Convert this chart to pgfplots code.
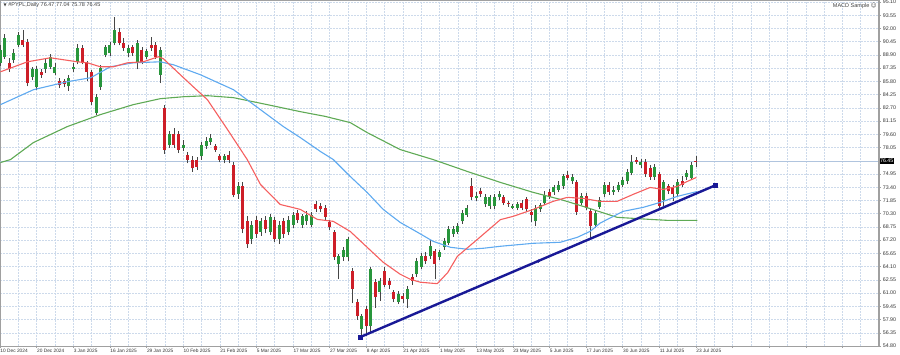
\documentclass[border=0pt]{standalone}
\usepackage{fontspec}
\setmainfont{Liberation Sans}
\newfontfamily\dejavu{DejaVu Sans}
\usepackage{pgfplots}
\usepackage{pgfplotstable}
\pgfplotsset{compat=1.18}

\definecolor{gridc}{RGB}{205,218,235}
\definecolor{upc}{RGB}{40,150,60}
\definecolor{dnc}{RGB}{205,30,40}
\definecolor{wickc}{RGB}{70,70,70}
\definecolor{maR}{RGB}{245,95,95}
\definecolor{maB}{RGB}{95,170,240}
\definecolor{maG}{RGB}{95,170,85}
\definecolor{tline}{RGB}{25,25,150}
\definecolor{bidc}{RGB}{176,196,222}
\definecolor{framec}{RGB}{160,160,160}

\pgfplotstableread{
i o h l c
0 88.0 90.0 87.6 89.5
1 88.7 91.3 88.4 90.9
2 88.0 88.5 86.9 87.2
3 88.3 89.6 88.0 89.1
4 90.1 91.6 89.8 91.2
5 90.7 91.8 89.8 90.1
6 90.4 90.8 85.2 85.6
7 86.3 87.5 85.9 87.2
8 85.1 87.6 84.8 87.2
9 86.9 87.3 86.2 86.6
10 87.2 88.5 86.8 88.0
11 87.5 89.0 87.2 88.6
12 86.8 87.9 86.5 87.5
13 85.8 86.2 85.0 85.4
14 85.8 86.1 85.1 85.5
15 85.2 86.5 84.7 86.2
16 87.2 87.9 86.9 87.5
17 88.1 90.2 87.8 89.7
18 89.7 90.0 87.8 88.0
19 88.0 88.2 85.8 86.9
20 86.9 87.1 83.0 83.4
21 82.1 84.3 81.8 84.0
22 85.1 87.7 84.8 87.4
23 88.9 90.1 88.6 89.8
24 89.1 90.4 88.8 90.1
25 90.3 93.3 90.0 91.8
26 91.6 92.0 90.0 90.3
27 90.3 90.9 89.4 89.7
28 89.1 90.0 88.7 89.7
29 89.8 90.1 88.8 89.1
30 88.0 90.6 87.2 90.3
31 89.5 89.8 87.8 88.1
32 88.7 89.6 88.4 89.3
33 90.1 91.0 89.4 89.7
34 90.1 90.4 88.4 88.7
35 86.6 89.8 85.6 89.5
36 82.7 83.0 77.3 77.8
37 78.4 80.0 78.0 79.6
38 79.6 80.3 78.0 78.4
39 79.6 80.0 77.4 77.8
40 78.0 78.9 77.6 78.4
41 77.2 77.5 76.2 76.6
42 76.6 77.0 75.2 75.6
43 76.6 76.9 75.4 75.8
44 77.0 78.7 76.6 78.4
45 78.2 79.3 77.9 78.8
46 78.7 79.6 78.4 79.2
47 78.2 78.5 77.5 77.8
48 77.0 77.3 76.3 76.6
49 76.6 77.3 76.2 77.0
50 77.2 77.6 76.2 76.6
51 76.0 76.3 72.2 72.5
52 72.6 74.0 72.0 73.6
53 73.6 74.0 68.0 68.5
54 69.5 70.0 66.3 66.7
55 67.3 69.5 66.8 69.0
56 69.6 70.0 67.5 67.9
57 68.2 69.8 67.7 69.4
58 69.6 70.0 68.0 68.5
59 68.2 70.3 67.8 69.9
60 69.6 69.9 67.0 67.3
61 67.3 69.4 66.8 69.0
62 69.4 69.8 67.5 67.9
63 68.1 70.0 67.8 69.6
64 69.0 70.5 68.6 70.2
65 70.4 70.7 69.2 69.6
66 69.0 70.3 68.6 70.0
67 69.4 70.6 69.0 70.2
68 69.0 70.5 68.7 70.2
69 71.4 71.8 70.5 70.8
70 71.2 71.6 70.5 70.8
71 71.0 71.3 69.6 69.9
72 69.3 69.6 68.4 68.7
73 68.1 68.4 64.9 65.2
74 64.4 65.6 62.6 65.3
75 65.2 66.4 64.8 66.1
76 65.2 67.6 64.8 67.3
77 63.6 63.9 59.8 61.5
78 59.9 60.3 57.9 58.3
79 56.8 58.6 55.85 58.3
80 59.1 59.5 56.0 57.1
81 57.1 64.1 56.4 63.8
82 62.3 62.6 59.3 60.5
83 61.1 62.8 60.1 62.4
84 63.6 64.0 61.7 62.0
85 62.4 62.8 61.5 62.0
86 61.1 61.4 59.9 60.3
87 60.0 61.2 59.7 60.9
88 60.7 61.0 59.8 60.3
89 60.3 61.8 59.3 61.5
90 62.9 63.2 62.0 62.4
91 63.2 65.1 62.9 64.8
92 64.1 65.7 63.8 65.4
93 65.4 65.8 64.4 64.7
94 65.3 67.2 65.0 66.5
95 65.9 66.2 62.6 64.4
96 65.2 66.1 64.9 65.8
97 66.4 67.4 66.1 67.1
98 66.9 68.8 66.6 68.5
99 67.9 68.8 67.6 68.5
100 68.2 69.2 67.9 68.8
101 69.4 70.7 69.1 70.4
102 70.2 71.3 69.9 71.0
103 73.5 74.5 71.9 72.2
104 72.1 72.8 71.8 72.4
105 72.9 73.3 72.2 72.6
106 71.4 72.6 71.1 72.3
107 71.2 72.5 70.9 72.2
108 71.2 72.6 70.9 72.2
109 72.2 73.0 71.9 72.6
110 72.2 72.5 71.3 71.6
111 71.6 71.8 71.1 71.4
112 71.0 71.4 70.8 71.2
113 71.0 71.7 70.7 71.4
114 71.6 71.9 70.7 71.0
115 72.0 72.3 70.5 70.8
116 70.5 70.8 69.3 70.2
117 69.4 71.3 68.9 71.0
118 70.8 71.6 70.5 71.3
119 71.6 72.9 71.3 72.5
120 72.8 73.2 72.0 72.3
121 72.8 73.7 72.5 73.4
122 73.1 74.1 72.8 73.7
123 73.5 75.0 73.2 74.7
124 74.8 75.3 74.2 74.5
125 74.1 75.0 73.8 74.6
126 74.0 74.3 70.2 70.5
127 71.6 72.7 71.3 72.4
128 72.4 72.7 70.7 71.0
129 70.6 70.9 67.5 68.8
130 69.0 70.7 68.6 70.4
131 71.1 72.2 70.8 71.9
132 72.6 74.0 72.3 73.7
133 73.7 74.0 72.5 72.8
134 72.8 73.5 72.5 73.1
135 73.1 74.0 72.8 73.7
136 73.7 74.6 73.4 74.3
137 74.1 75.5 73.8 75.2
138 75.1 77.2 74.8 76.4
139 76.6 76.9 76.1 76.4
140 76.0 76.7 75.7 76.3
141 76.4 76.7 74.6 74.9
142 75.7 76.0 74.3 74.6
143 74.6 76.1 74.3 75.8
144 74.9 75.2 70.8 71.2
145 71.9 74.3 71.2 74.0
146 73.5 73.8 72.6 72.9
147 73.4 73.7 71.8 72.6
148 72.6 74.4 72.3 74.0
149 74.1 74.7 73.4 73.7
150 74.6 75.4 74.3 75.1
151 74.5 76.4 74.3 76.0
152 76.47 77.04 75.78 76.45
}\candles

\pgfplotstableread{
i v
0.1 86.92
6.0 88.09
11.0 88.56
16.9 88.09
19.1 87.97
21.9 87.51
24.8 87.51
27.8 87.97
31.3 88.09
34.6 88.68
35.7 88.44
39.4 86.57
42.2 85.17
45.3 83.65
49.7 80.15
54.0 76.64
56.9 73.72
61.2 71.38
65.6 70.80
69.3 69.63
72.8 69.40
76.5 68.22
80.2 66.36
83.7 64.61
87.4 63.21
89.6 62.62
91.8 62.27
95.5 62.10
97.8 63.40
99.9 65.30
104.3 67.30
109.3 69.60
112.1 69.99
116.5 70.80
120.8 71.74
123.9 72.21
127.4 72.09
131.1 71.74
134.8 71.74
138.3 72.56
142.0 73.37
144.9 73.14
147.9 73.49
150.1 74.07
152.1 74.54
}\maRed

\pgfplotstableread{
i v
0.1 83.07
7.3 84.82
14.7 85.76
19.8 86.22
24.1 87.51
29.1 87.97
35.0 88.09
37.9 87.74
43.8 86.57
51.0 84.82
56.9 82.48
61.9 80.50
65.6 79.21
70.0 77.58
72.8 76.64
76.5 74.66
80.2 72.79
83.7 70.80
87.4 69.28
91.2 68.12
94.6 67.06
98.4 66.36
102.1 66.13
105.6 66.25
109.3 66.48
116.5 66.83
122.4 66.95
126.1 67.53
128.9 68.23
131.1 69.20
136.1 70.57
140.5 71.04
144.2 71.62
147.9 72.32
152.3 72.90
}\maBlue

\pgfplotstableread{
i v
0.1 76.29
2.3 76.64
7.3 78.63
14.7 80.50
21.9 81.90
29.1 83.07
35.0 83.77
40.1 84.00
45.3 84.12
51.0 83.89
58.4 83.07
65.6 82.25
71.0 81.70
76.5 80.97
80.2 79.80
87.4 77.81
94.6 76.64
102.1 75.24
109.3 73.96
116.5 72.79
122.4 71.97
127.4 71.15
134.8 69.87
142.0 69.63
145.7 69.52
152.3 69.52
}\maGreen

\begin{document}
\begin{tikzpicture}[x=1pt,y=1pt]
\useasboundingbox (0,-9) rectangle (900,346);
\begin{axis}[
  at={(0,0)}, anchor=south west,
  scale only axis, width=879pt, height=346pt,
  xmin=0, xmax=192, ymin=54.80, ymax=95.33,
  clip mode=individual,
  axis line style={draw=framec, line width=0.6pt},
  xtick={0,8,...,184},
  xticklabels={10 Dec 2024,20 Dec 2024,3 Jan 2025,16 Jan 2025,29 Jan 2025,10 Feb 2025,21 Feb 2025,5 Mar 2025,17 Mar 2025,27 Mar 2025,8 Apr 2025,21 Apr 2025,1 May 2025,13 May 2025,23 May 2025,5 Jun 2025,17 Jun 2025,30 Jun 2025,11 Jul 2025,23 Jul 2025,,,,},
  minor xtick={4,12,...,188},
  ytick={54.80,56.35,57.90,59.45,61.00,62.55,64.10,65.65,67.20,68.75,70.30,71.85,73.40,74.95,78.05,79.60,81.15,82.70,84.25,85.80,87.35,88.90,90.45,92.00,93.55,95.10},
  yticklabel={\pgfmathprintnumber[fixed,fixed zerofill,precision=2,assume math mode=true]{\tick}},
  xtick pos=lower, ytick pos=right, yticklabel pos=right,
  major tick length=2pt, minor tick length=0pt,
  tick style={framec, line width=0.5pt},
  tick align=outside,
  grid=both,
  major grid style={gridc, dash pattern=on 1.5pt off 1.5pt, line width=0.5pt},
  minor grid style={gridc, dash pattern=on 1.5pt off 1.5pt, line width=0.5pt},
  xticklabel style={anchor=north west, inner sep=0.6pt, xshift=-0.3pt, font=\fontsize{4.8}{5}\selectfont, text=black!80},
  yticklabel style={anchor=west, inner sep=0.6pt, xshift=1pt, font=\fontsize{5.3}{6}\selectfont, text=black!80},
]
% bid line
\addplot[bidc, line width=0.8pt, forget plot] coordinates {(0,76.45) (192,76.45)};
% wicks
\addplot[draw=none, mark=none, forget plot,
  error bars/.cd, y dir=plus, y explicit, error mark=none,
  error bar style={draw=wickc, line width=0.7pt}]
  table[x=i, y=l, y error expr=\thisrow{h}-\thisrow{l}] {\candles};
% bullish bodies
\addplot[draw=none, mark=none, forget plot,
  restrict expr to domain={\thisrow{c}-\thisrow{o}}{0:100},
  error bars/.cd, y dir=plus, y explicit, error mark=none,
  error bar style={draw=upc, line width=3pt}]
  table[x=i, y=o, y error expr=\thisrow{c}-\thisrow{o}] {\candles};
% bearish bodies
\addplot[draw=none, mark=none, forget plot,
  restrict expr to domain={\thisrow{o}-\thisrow{c}}{0.0001:100},
  error bars/.cd, y dir=plus, y explicit, error mark=none,
  error bar style={draw=dnc, line width=3pt}]
  table[x=i, y=c, y error expr=\thisrow{o}-\thisrow{c}] {\candles};
% moving averages
\addplot[maG, line width=1.1pt, mark=none] table[x=i, y=v] {\maGreen};
\addplot[maB, line width=1.1pt, mark=none] table[x=i, y=v] {\maBlue};
\addplot[maR, line width=1.1pt, mark=none] table[x=i, y=v] {\maRed};
% trend line
\addplot[tline, line width=2.4pt, mark=none] coordinates {(78.7,55.85) (156.2,73.61)};
\addplot[tline, only marks, mark=square*, mark size=2.2pt] coordinates {(78.7,55.85) (156.2,73.61)};
\addplot[tline, only marks, mark=*, mark size=1.4pt] coordinates {(117.6,64.74)};
% labels
\node[anchor=north west, inner sep=0pt, font=\fontsize{5.5}{6}\selectfont, text=black!75] at (rel axis cs:0.004,0.992) {{\dejavu\fontsize{4}{5}\selectfont▼}\ \#PYPL,Daily 76.47 77.04 75.78 76.45};
\node[anchor=north east, inner sep=0pt, font=\fontsize{5.5}{6}\selectfont, text=black!75] at (rel axis cs:0.9975,0.992) {MACD Sample {\dejavu ☺}};
\node[anchor=west, fill=black, text=white, inner sep=0.9pt, font=\fontsize{5.3}{6}\selectfont] at (axis cs:192,76.45) {76.45};
\end{axis}
\draw[framec, line width=1.4pt] (879,0) -- (879,346);
\end{tikzpicture}
\end{document}
